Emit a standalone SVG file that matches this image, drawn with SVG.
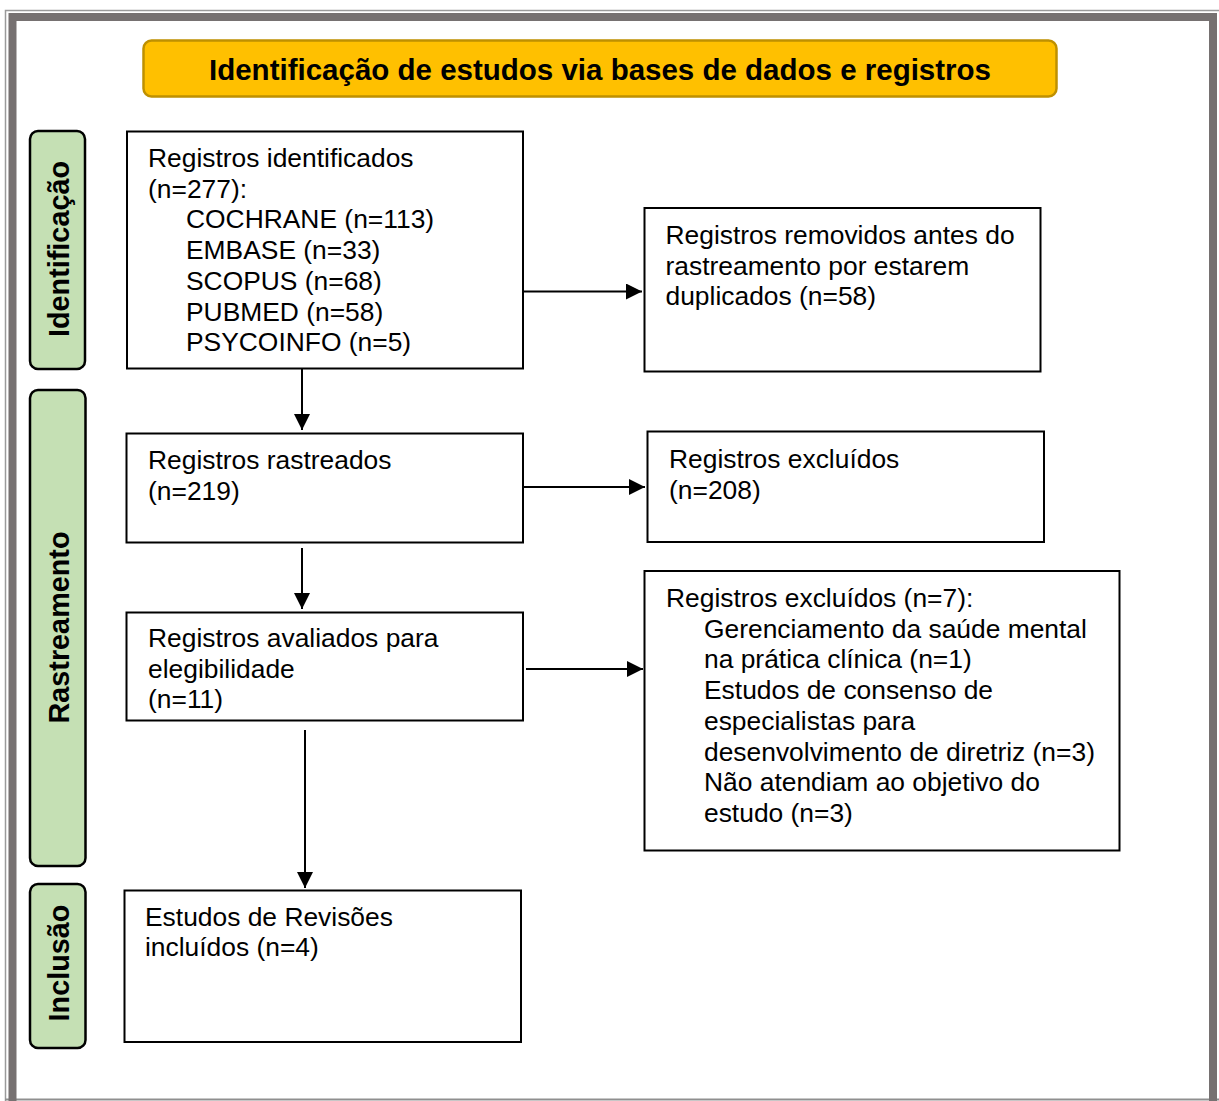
<svg xmlns="http://www.w3.org/2000/svg" width="1219" height="1101" viewBox="0 0 1219 1101">
<style>
.bx{fill:#fff;stroke:#000;stroke-width:2}
.side{fill:#C5E0B4;stroke:#000;stroke-width:2.5}
.t{font-family:"Liberation Sans",Arial,sans-serif;font-size:26.4px;fill:#000}
.b{font-family:"Liberation Sans",Arial,sans-serif;font-size:28.8px;font-weight:bold;fill:#000}
.c{fill:none;stroke:#000;stroke-width:2}
</style>
<defs>
<marker id="ah" markerUnits="userSpaceOnUse" markerWidth="16" markerHeight="16" viewBox="0 0 15 15" refX="15" refY="7.5" orient="auto">
<path d="M0,0 L15,7.5 L0,15 Z" fill="#000"/>
</marker>
</defs>
<rect width="1219" height="1101" fill="#fff"/>
<g id="frame">
<path d="M5.5,1101 V10.5 H1219" fill="none" stroke="#9a9a9a" stroke-width="1.5"/>
<line x1="5" y1="1099.5" x2="1219" y2="1099.5" stroke="#8f8f8f" stroke-width="2"/>
<path d="M12.5,1101 V17 H1213 V1101" fill="none" stroke="#767171" stroke-width="8"/>
</g>
<g id="title">
<rect x="143.5" y="40.5" width="913" height="56" rx="8" fill="#FFC000" stroke="#BF9000" stroke-width="2.5"/>
<text class="b" x="600" y="80" text-anchor="middle" style="font-size:29.5px">Identificação de estudos via bases de dados e registros</text>
</g>
<g id="phase-identificacao">
<rect class="side" x="30" y="131" width="55" height="238" rx="8"/>
<text class="b" transform="translate(68.5,249) rotate(-90)" text-anchor="middle">Identificação</text>
</g>
<g id="phase-rastreamento">
<rect class="side" x="30" y="390" width="55.5" height="476" rx="8"/>
<text class="b" transform="translate(68.5,627.5) rotate(-90)" text-anchor="middle">Rastreamento</text>
</g>
<g id="phase-inclusao">
<rect class="side" x="30" y="884" width="55.5" height="164" rx="8"/>
<text class="b" transform="translate(69,963) rotate(-90)" text-anchor="middle">Inclusão</text>
</g>
<g id="n-identificados">
<rect class="bx" x="127" y="131.5" width="396" height="237"/>
<text class="t"><tspan x="148" y="167">Registros identificados</tspan><tspan x="148" y="197.7">(n=277):</tspan><tspan x="186" y="228.4">COCHRANE (n=113)</tspan><tspan x="186" y="259.1">EMBASE (n=33)</tspan><tspan x="186" y="289.8">SCOPUS (n=68)</tspan><tspan x="186" y="320.5">PUBMED (n=58)</tspan><tspan x="186" y="351.2">PSYCOINFO (n=5)</tspan></text>
</g>
<g id="n-removidos">
<rect class="bx" x="644.5" y="208" width="396" height="163.5"/>
<text class="t"><tspan x="665.5" y="244">Registros removidos antes do</tspan><tspan x="665.5" y="274.5">rastreamento por estarem</tspan><tspan x="665.5" y="305">duplicados (n=58)</tspan></text>
</g>
<g id="n-rastreados">
<rect class="bx" x="126.5" y="433.5" width="396.5" height="109"/>
<text class="t"><tspan x="148" y="469">Registros rastreados</tspan><tspan x="148" y="499.7">(n=219)</tspan></text>
</g>
<g id="n-excluidos1">
<rect class="bx" x="647.5" y="431.5" width="396.5" height="110.5"/>
<text class="t"><tspan x="669" y="468">Registros excluídos</tspan><tspan x="669" y="498.7">(n=208)</tspan></text>
</g>
<g id="n-avaliados">
<rect class="bx" x="126.5" y="612.5" width="396.5" height="108"/>
<text class="t"><tspan x="148" y="647">Registros avaliados para</tspan><tspan x="148" y="677.7">elegibilidade</tspan><tspan x="148" y="708.4">(n=11)</tspan></text>
</g>
<g id="n-excluidos7">
<rect class="bx" x="644.5" y="571" width="475" height="279.5"/>
<text class="t"><tspan x="666" y="607">Registros excluídos (n=7):</tspan><tspan x="704" y="637.7">Gerenciamento da saúde mental</tspan><tspan x="704" y="668.4">na prática clínica (n=1)</tspan><tspan x="704" y="699.1">Estudos de consenso de</tspan><tspan x="704" y="729.8">especialistas para</tspan><tspan x="704" y="760.5">desenvolvimento de diretriz (n=3)</tspan><tspan x="704" y="791.2">Não atendiam ao objetivo do</tspan><tspan x="704" y="821.9">estudo (n=3)</tspan></text>
</g>
<g id="n-incluidos">
<rect class="bx" x="124.5" y="890.5" width="396.5" height="151.5"/>
<text class="t"><tspan x="145" y="925.5">Estudos de Revisões</tspan><tspan x="145" y="956.2">incluídos (n=4)</tspan></text>
</g>
<g id="connectors">
<path class="c" d="M523,291.5 H642" marker-end="url(#ah)"/>
<path class="c" d="M302,369 V430" marker-end="url(#ah)"/>
<path class="c" d="M523,487 H645" marker-end="url(#ah)"/>
<path class="c" d="M302,548 V609" marker-end="url(#ah)"/>
<path class="c" d="M526,669 H643" marker-end="url(#ah)"/>
<path class="c" d="M305,730 V888" marker-end="url(#ah)"/>
</g>
</svg>
